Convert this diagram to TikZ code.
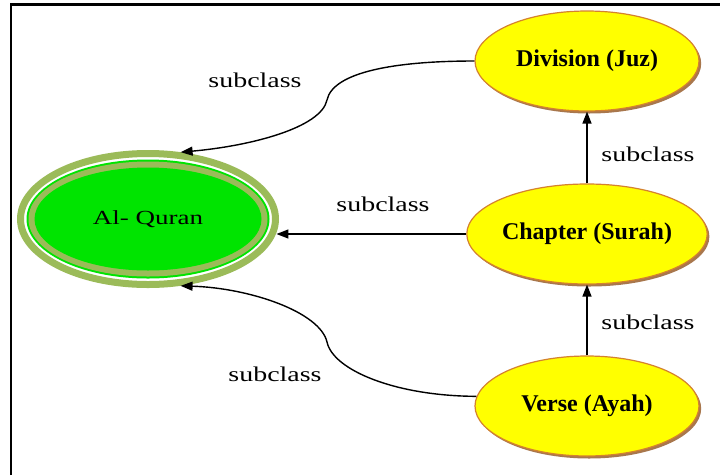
\documentclass[tikz,border=0pt]{standalone}
\usepackage{fontspec}
\setmainfont{Liberation Serif}
\usetikzlibrary{shapes.geometric,arrows.meta,shadows,backgrounds}
\definecolor{olivering}{HTML}{9BBB59}
\definecolor{brightgreen}{HTML}{00E400}
\definecolor{ylw}{HTML}{FFFF00}
\definecolor{ylwborder}{HTML}{D4822E}
\definecolor{shadowbrown}{HTML}{8B4A12}
\tikzset{
  classnode/.style={ellipse, fill=ylw, draw=ylwborder, line width=1.2pt,
    minimum width=224pt, minimum height=100pt, inner sep=0pt,
    font=\fontsize{24}{28}\selectfont\bfseries,
    drop shadow={shadow xshift=2.2pt, shadow yshift=-2.5pt, fill=shadowbrown, opacity=0.75}},
  rootnode/.style={ellipse, draw=olivering, line width=7pt,
    minimum width=255pt, minimum height=131pt, inner sep=0pt,
    font=\fontsize{20}{24}\selectfont},
  lbl/.style={font=\fontsize{21}{25}\selectfont, inner sep=0pt},
  arr/.style={line width=1.4pt, -{Triangle[length=12pt,width=9pt]}},
  frame/.style={line width=2.2pt, black}
}
\newcommand{\wide}[1]{\scalebox{1.33}[1]{#1}}
\begin{document}
\begin{tikzpicture}[x=1pt,y=-1pt]
\useasboundingbox (0,0) rectangle (720,475);
\draw[frame] (11,475) -- (11,4.5) -- (720,4.5);

% root node
\node[rootnode] (alq) at (148,219) {\scalebox{1.35}[1]{Al- Quran}};
\begin{scope}[on background layer]
  \fill[white] (0,0) rectangle (720,475);
  \fill[white] (alq.center) ellipse (124 and 62);
  \fill[brightgreen] (alq.center) ellipse (121.5 and 59.5);
  \fill[olivering] (alq.center) ellipse (119.5 and 57.5);
  \fill[brightgreen] (alq.center) ellipse (113.5 and 51.5);
\end{scope}

% class nodes
\node[classnode] (div) at (587,61) {Division (Juz)};
\node[classnode] (chap) at (587,234) {Chapter (Surah)};
\node[classnode] (verse) at (587,406) {Verse (Ayah)};

% midpoints of S-curves
\coordinate (m1) at (327,100);
\coordinate (m2) at (327,342);

% connectors
\draw[arr] (div.west) .. controls (395,61) and (333,72) .. (m1)
  .. controls (321,128) and (250,146) .. (alq.64);
\draw[arr] (chap.west) -- (chap.west -| alq.-6.7);
\draw[arr] (verse.175) .. controls (395,396) and (333,370) .. (m2)
  .. controls (320,312) and (250,288) .. (alq.-64);
\draw[arr] (chap.north) -- (div.south);
\draw[arr] (verse.north) -- (chap.south);

% labels
\node[lbl] (l1) at (255,80) {\wide{subclass}};
\node[lbl] (l2) at (383,204) {\wide{subclass}};
\node[lbl] (l3) at (275,374) {\wide{subclass}};
\node[lbl] (l4) at (648,154) {\wide{subclass}};
\node[lbl] (l5) at (648,322) {\wide{subclass}};
\end{tikzpicture}
\end{document}
